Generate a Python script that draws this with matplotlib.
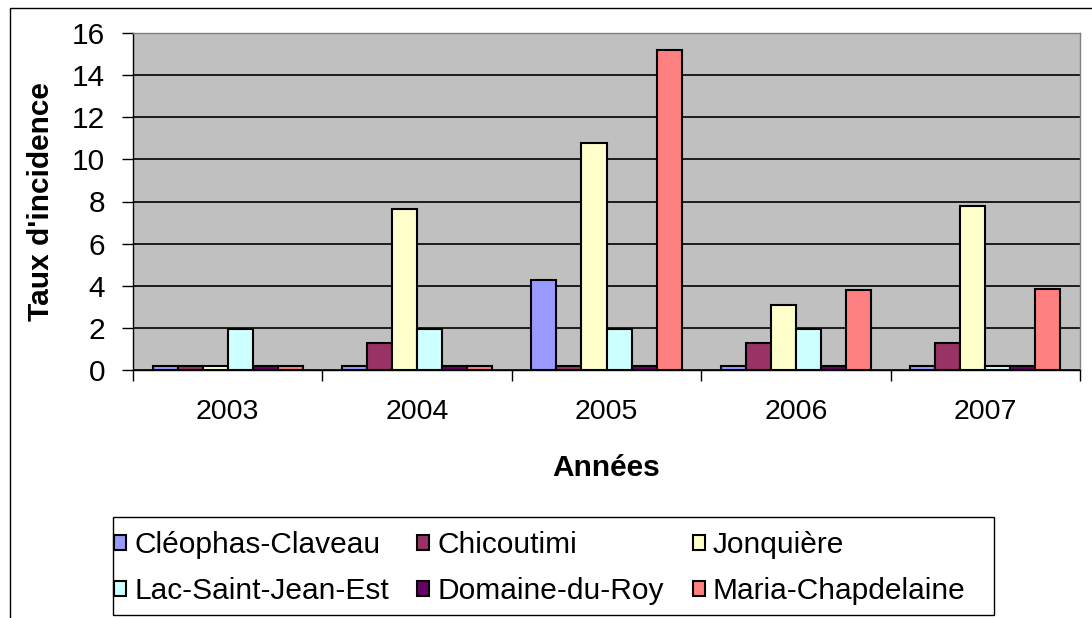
import numpy as np
import matplotlib
matplotlib.use('Agg')
import matplotlib.pyplot as plt
from matplotlib.patches import Rectangle

plt.rcParams['font.family'] = ['Liberation Sans', 'DejaVu Sans']

years = ['2003', '2004', '2005', '2006', '2007']
series = ['Cléophas-Claveau', 'Chicoutimi', 'Jonquière',
          'Lac-Saint-Jean-Est', 'Domaine-du-Roy', 'Maria-Chapdelaine']
colors = ['#9999FF', '#993366', '#FFFFCC', '#CCFFFF', '#660066', '#FF8080']

cleophas = [0.2, 0.2, 4.25, 0.2, 0.2]
chicoutimi = [0.2, 1.3, 0.2, 1.3, 1.3]
jonquiere = [0.2, 7.65, 10.8, 3.1, 7.8]
lac_st_jean = [1.95, 1.95, 1.95, 1.95, 0.2]
domaine = [0.2, 0.2, 0.2, 0.2, 0.2]
maria = [0.2, 0.2, 15.2, 3.8, 3.85]
values = [cleophas, chicoutimi, jonquiere, lac_st_jean, domaine, maria]

W, H = 1092, 618
FS = 21.5
fig = plt.figure(figsize=(W / 100, H / 100), dpi=100)
ax = fig.add_axes([133 / W, 1 - 370 / H, 947 / W, 337 / H])
ax.set_facecolor('#C0C0C0')

x = np.arange(len(years))
bw = 0.132
handles = []
for i, (name, vals, c) in enumerate(zip(series, values, colors)):
    offs = (i - 2.5) * bw
    b = ax.bar(x + offs, vals, bw, color=c, edgecolor='black', linewidth=1.5,
               label=name, zorder=3)
    handles.append(b)

ax.set_xlim(-0.5, len(years) - 0.5)
ax.set_ylim(0, 16)
ax.set_yticks(np.arange(0, 17, 2))
ax.yaxis.grid(True, color='black', linewidth=1.2, zorder=1)
ax.set_axisbelow(True)

ax.set_xticks(np.arange(-0.5, len(years), 1))
ax.set_xticklabels([])
ax.set_xticks(x, minor=True)
ax.set_xticklabels(years, minor=True)
ax.tick_params(axis='x', which='major', length=8, width=1, direction='out')
ax.tick_params(axis='x', which='minor', length=0, pad=21, labelsize=20.5)
ax.tick_params(axis='y', length=8, width=1, labelsize=FS, pad=12)

for s in ['top', 'right']:
    ax.spines[s].set_color('#808080')
    ax.spines[s].set_linewidth(1)
for s in ['left', 'bottom']:
    ax.spines[s].set_color('black')
    ax.spines[s].set_linewidth(1)

ax.set_xlabel('Années', fontsize=FS, fontweight='bold', labelpad=21)
ax.set_ylabel("Taux d'incidence", fontsize=FS, fontweight='bold', labelpad=12)

# legend without its own frame, frame drawn separately
order = [0, 3, 1, 4, 2, 5]
leg = fig.legend([handles[i] for i in order], [series[i] for i in order],
                 ncol=3, loc='center left',
                 bbox_to_anchor=(114 / W, 1 - 568 / H),
                 fontsize=FS, frameon=False,
                 handlelength=0.4, handleheight=0.4, handletextpad=0.28,
                 columnspacing=0.95, borderpad=0.0, labelspacing=0.62,
                 borderaxespad=0)

fig.patches.append(Rectangle((113 / W, 1 - 615 / H), (994 - 113) / W, 98 / H,
                             transform=fig.transFigure, fill=False,
                             edgecolor='black', linewidth=1))
fig.patches.append(Rectangle((10 / W, -0.1), 1.2, 1.1 - 8 / H,
                             transform=fig.transFigure, fill=False,
                             edgecolor='black', linewidth=1, clip_on=False))

fig.savefig('out.png', dpi=100)
